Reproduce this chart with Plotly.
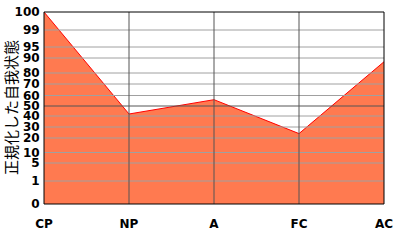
import numpy as np
import plotly.graph_objects as go

categories = ["CP", "NP", "A", "FC", "AC"]
values = [100, 42, 56, 24, 87.5]

# Non-linear percentile scale: label value -> axis position
tick_values = [0, 1, 5, 10, 20, 30, 40, 50, 60, 70, 80, 90, 95, 99, 100]
tick_positions = [0, 23, 41, 51.5, 66, 77, 88, 98, 108.5, 120, 131, 146, 157, 174, 192]

def scale(v):
    return np.interp(v, tick_values, tick_positions)

xs = list(range(len(categories)))
ys = scale(values)

fig = go.Figure()
fig.add_trace(go.Scatter(
    x=xs, y=ys, mode="lines", fill="tozeroy",
    fillcolor="#FF7A50", line=dict(color="#FF0000", width=1),
    hoverinfo="skip", showlegend=False))

shapes = []
for tv, tp in zip(tick_values, tick_positions):
    if tv in (0, 100):
        continue
    color = "#555555" if tv == 50 else "#A0A0A0"
    shapes.append(dict(type="line", xref="paper", yref="y", x0=0, x1=1, y0=tp, y1=tp,
                       line=dict(color=color, width=1), layer="above"))
for i in range(1, len(categories) - 1):
    shapes.append(dict(type="line", xref="x", yref="paper", x0=i, x1=i, y0=0, y1=1,
                       line=dict(color="#555555", width=1), layer="above"))
shapes.append(dict(type="rect", xref="paper", yref="paper", x0=0, x1=1, y0=0, y1=1,
                   line=dict(color="#000000", width=1), layer="above"))

tick_font = dict(family="DejaVu Sans", size=12, color="black", weight="bold")

fig.update_layout(
    width=400, height=240,
    margin=dict(l=44, r=16, t=12, b=36),
    paper_bgcolor="white", plot_bgcolor="white",
    shapes=shapes,
    font=dict(family="DejaVu Sans", color="black", size=12),
    xaxis=dict(range=[0, 4], tickvals=xs, ticktext=categories, showgrid=False,
               zeroline=False, showline=False, ticks="outside", ticklen=9,
               tickcolor="rgba(0,0,0,0)", tickfont=tick_font, automargin=False),
    yaxis=dict(range=[0, 192], tickvals=tick_positions, ticktext=[str(v) for v in tick_values],
               showgrid=False, zeroline=False, showline=False, ticks="outside", ticklen=1,
               tickcolor="rgba(0,0,0,0)", tickfont=tick_font, automargin=False),
    annotations=[dict(text="正規化した自我状態", textangle=-90, xref="paper", yref="paper",
                      x=-0.1, y=0.5, xanchor="center", yanchor="middle", showarrow=False,
                      font=dict(family="Noto Sans CJK JP", size=15, color="black"))],
)

fig.write_html("out.html")
